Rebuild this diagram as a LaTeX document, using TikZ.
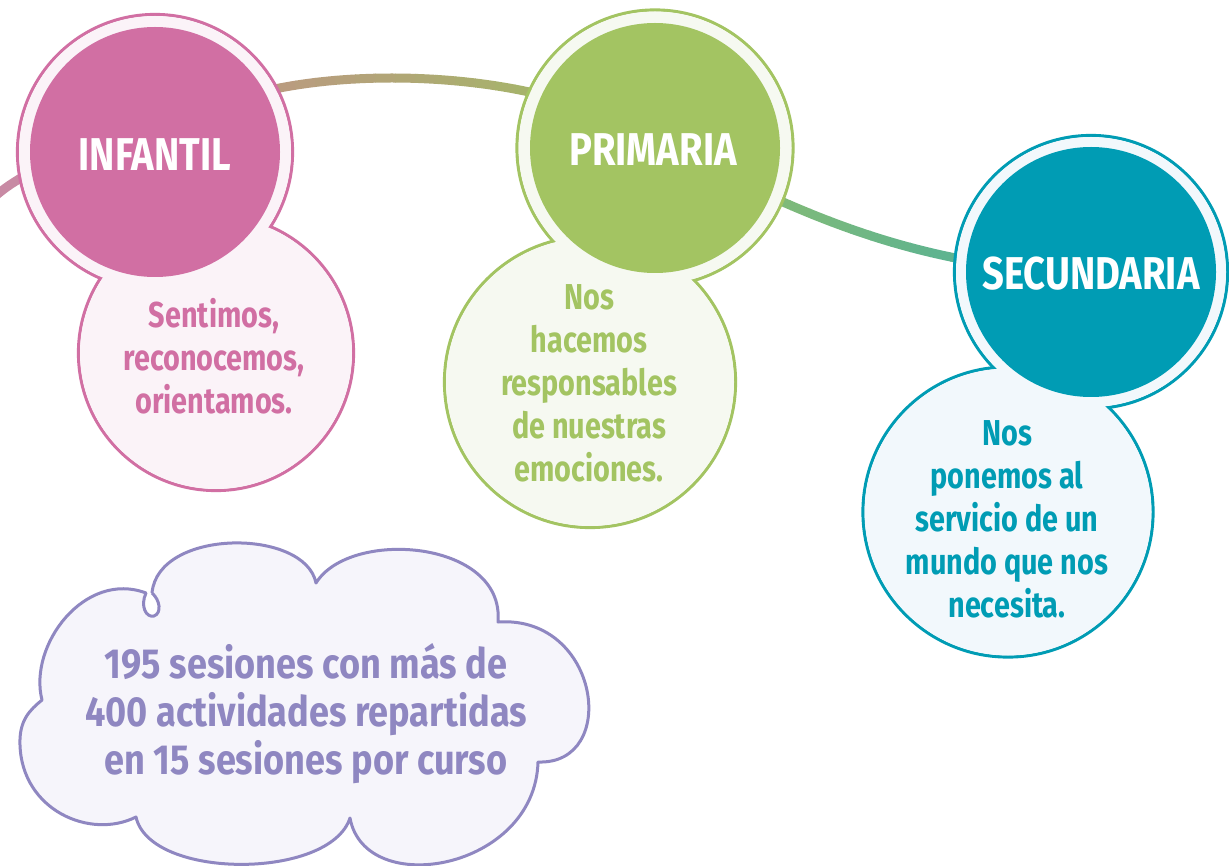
\documentclass[tikz,border=0pt]{standalone}
\usepackage{fontspec}
\newfontfamily\cond{Fira Sans}[FakeStretch=0.8]
\newfontfamily\condh{Fira Sans}[FakeStretch=0.83]
\newfontfamily\condc{Fira Sans}[FakeStretch=0.86]
\definecolor{pk}{HTML}{D16FA3}
\definecolor{pkL}{HTML}{FBF3F8}
\definecolor{gr}{HTML}{A3C462}
\definecolor{grL}{HTML}{F6F9F1}
\definecolor{tl}{HTML}{009CB4}
\definecolor{tlL}{HTML}{F2F8FC}
\definecolor{pu}{HTML}{8F87C1}
\definecolor{puL}{HTML}{F6F5FB}
\definecolor{c0}{HTML}{C88AA4}
\definecolor{c1}{HTML}{BA9B80}
\definecolor{c2}{HTML}{A6B46B}
\definecolor{c3}{HTML}{7FBA79}
\definecolor{c4}{HTML}{5CB391}
\pgfdeclarelayer{bg}
\pgfsetlayers{bg,main}
\tikzset{
  outline/.style={circle, inner sep=0pt, line width=3.2pt, draw=#1},
  core/.style={circle, inner sep=0pt, minimum size=250pt, fill=#1},
  head/.style={inner sep=0pt, text=white, font=\condh\bfseries\fontsize{46}{50}\selectfont},
  bodytext/.style={align=center, inner sep=0pt, text=#1, font=\cond\bfseries\fontsize{36}{43}\selectfont},
  cloudtext/.style={align=center, inner sep=0pt, text=pu, font=\condc\bfseries\fontsize{42}{48}\selectfont},
  link/.style={line width=9pt},
}
\begin{document}
\begin{tikzpicture}[x=1pt,y=1pt]
\useasboundingbox (0,0) rectangle (1229,-866);
% INFANTIL
\node[outline=pk, minimum size=275pt] (infR) at (155,-152) {};
\node[outline=pk, minimum size=275pt] (infB) at (216,-353) {};
\fill[pkL] (infR.center) circle[radius=136pt];
\fill[pkL] (infB.center) circle[radius=136pt];
\node[core=pk] (inf) at (infR.center) {};
\node[head] (infH) at (155,-155) {INFANTIL};
\node[bodytext=pk] (infT) at (214,-356) {Sentimos,\\reconocemos,\\orientamos.};
% PRIMARIA
\node[outline=gr, minimum size=276pt] (priR) at (655,-148) {};
\node[outline=gr, minimum size=291pt] (priB) at (590,-382) {};
\fill[grL] (priR.center) circle[radius=136.5pt];
\fill[grL] (priB.center) circle[radius=144pt];
\node[core=gr] (pri) at (priR.center) {};
\node[head] (priH) at (653,-150) {PRIMARIA};
\node[bodytext=gr] (priT) at (589,-383) {Nos\\hacemos\\responsables\\de nuestras\\emociones.};
% SECUNDARIA
\node[outline=tl, minimum size=273pt] (secR) at (1091,-272) {};
\node[outline=tl, minimum size=290pt] (secB) at (1008,-512) {};
\fill[tlL] (secR.center) circle[radius=135pt];
\fill[tlL] (secB.center) circle[radius=143.5pt];
\node[core=tl] (sec) at (secR.center) {};
\node[head] (secH) at (1091,-274) {SECUNDARIA};
\node[bodytext=tl] (secT) at (1007,-519) {Nos\\ponemos al\\servicio de un\\mundo que nos\\necesita.};
% cloud
\draw[pu, fill=puL, line width=3pt, line join=round]
  (152,-593) .. controls (158,-528) and (305,-528) .. (316,-583)
  .. controls (350,-528) and (505,-540) .. (498,-622)
  .. controls (600,-615) and (620,-765) .. (538,-762)
  .. controls (535,-870) and (365,-900) .. (350,-818)
  .. controls (330,-880) and (150,-880) .. (136,-817)
  .. controls (90,-840) and (22,-810) .. (20,-745)
  .. controls (19,-720) and (30,-710) .. (42,-700)
  .. controls (28,-645) and (85,-570) .. (146,-593)
  .. controls (140,-606) and (146,-618) .. (154,-616)
  .. controls (162,-613) and (160,-600) .. (152,-593);
\node[cloudtext] (cloudT) at (306,-714) {195 sesiones con más de\\400 actividades repartidas\\en 15 sesiones por curso};
% connectors
\begin{pgfonlayer}{bg}
\fill[white] (0,0) rectangle (1229,-866);
\coordinate (s) at (-12,-203);
\draw[link, c0] (s) .. controls (20,-170) and (90,-140) .. (inf.center);
\foreach \i in {0,...,14}{
  \pgfmathsetmacro\xa{255+\i*20}
  \pgfmathsetmacro\xb{\xa+20.5}
  \pgfmathtruncatemacro\p{min(100,max(0,(\xa+10-277)/253*100))}
  \begin{scope}
    \clip (\xa,-30) rectangle (\xb,-150);
    \draw[link, draw=c2!\p!c1] (inf.center) .. controls (215,-52) and (560,-56) .. (pri.center);
  \end{scope}
}
\foreach \i in {0,...,9}{
  \pgfmathsetmacro\xa{770+\i*20}
  \pgfmathsetmacro\xb{\xa+20.5}
  \pgfmathtruncatemacro\p{min(100,max(0,(\xa+10-785)/168*100))}
  \begin{scope}
    \clip (\xa,-140) rectangle (\xb,-310);
    \draw[link, draw=c4!\p!c3] (pri.center) .. controls (720,-160) and (860,-270) .. (sec.center);
  \end{scope}
}
\end{pgfonlayer}
\end{tikzpicture}
\end{document}
